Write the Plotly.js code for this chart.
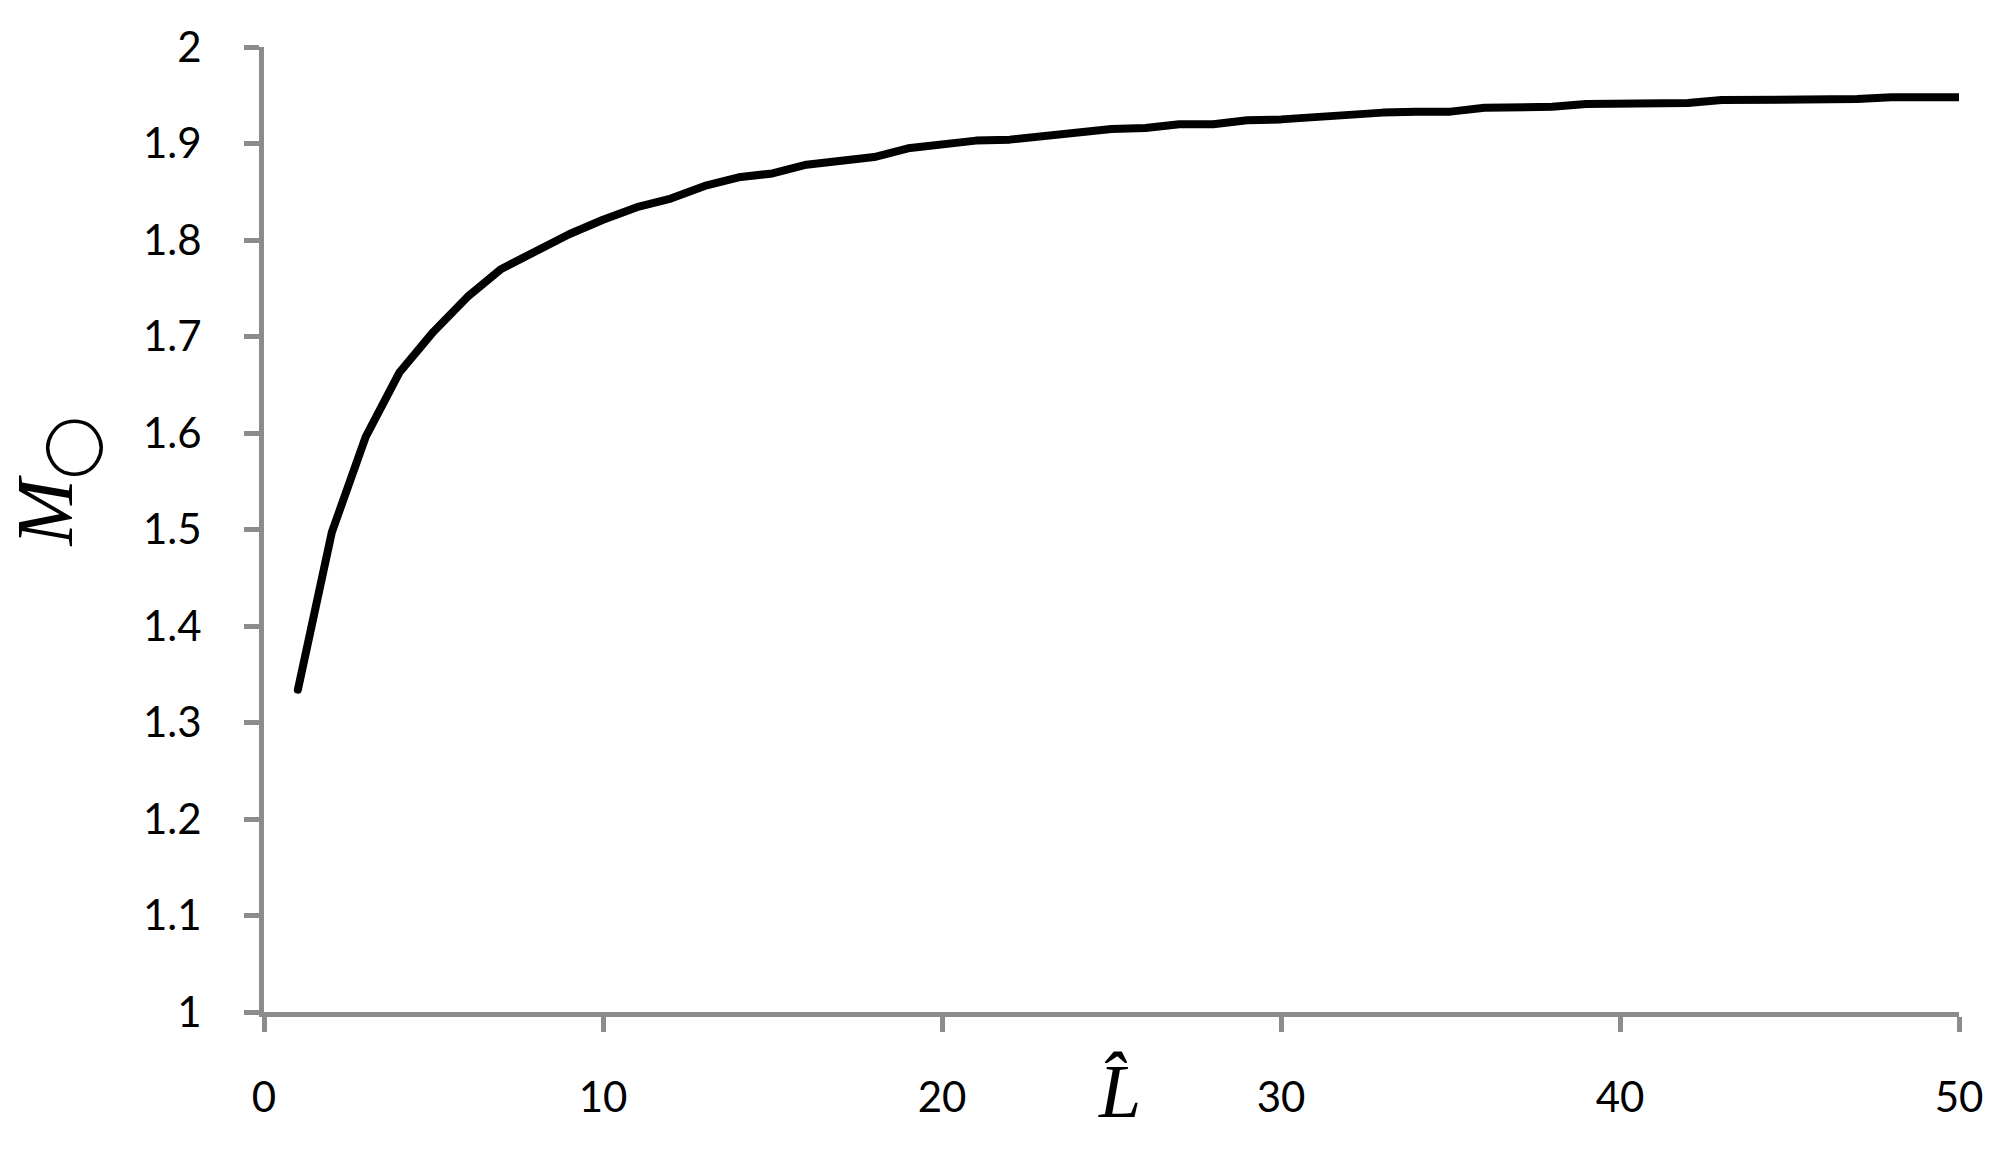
<!DOCTYPE html>
<html>
<head>
<meta charset="utf-8">
<script src="https://cdn.plot.ly/plotly-3.0.1.min.js"></script>
<style>
  html, body { margin: 0; padding: 0; background: #ffffff; }
  #chart { width: 2014px; height: 1150px; }
  #chart .scatterlayer .js-line { stroke-linecap: round !important; stroke-linejoin: round !important; }
</style>
</head>
<body>
<div id="chart"></div>
<script>
// L-hat values (x) and M-circle values (y)
const Lhat = [1, 2, 3, 4, 5, 6, 7, 8, 9, 10,
              11, 12, 13, 14, 15, 16, 17, 18, 19, 20,
              21, 22, 23, 24, 25, 26, 27, 28, 29, 30,
              31, 32, 33, 34, 35, 36, 37, 38, 39, 40,
              41, 42, 43, 44, 45, 46, 47, 48, 49, 50];
const Mcircle = [1.334, 1.497, 1.596, 1.663, 1.705, 1.741, 1.770, 1.788, 1.806, 1.821,
                 1.834, 1.843, 1.856, 1.865, 1.869, 1.878, 1.882, 1.886, 1.895, 1.899,
                 1.903, 1.904, 1.908, 1.912, 1.915, 1.916, 1.920, 1.920, 1.924, 1.925,
                 1.928, 1.929, 1.932, 1.933, 1.933, 1.937, 1.937, 1.938, 1.941, 1.941,
                 1.942, 1.942, 1.945, 1.945, 1.945, 1.946, 1.946, 1.948, 1.948, 1.948];

const xTickVals = [0, 10, 20, 30, 40, 50];
const yTickVals = [1, 1.1, 1.2, 1.3, 1.4, 1.5, 1.6, 1.7, 1.8, 1.9, 2];
const yTickText = ['1', '1.1', '1.2', '1.3', '1.4', '1.5', '1.6', '1.7', '1.8', '1.9', '2'];

const xTitle = '<i>L\u0302</i>';
const yTitle = '<i>M</i><sub>\u25EF</sub>';

const axisGray = '#8c8c8c';
const tickFont = { family: 'Lato, "Open Sans", sans-serif', size: 42, color: '#000000' };

const trace = {
  x: Lhat,
  y: Mcircle,
  type: 'scatter',
  mode: 'lines',
  line: { color: '#000000', width: 8 },
  hoverinfo: 'skip'
};

const layout = {
  width: 2014,
  height: 1150,
  paper_bgcolor: '#ffffff',
  plot_bgcolor: '#ffffff',
  showlegend: false,
  margin: { l: 264, r: 55, t: 47, b: 138, pad: 0 },
  xaxis: {
    range: [0, 50],
    tickvals: xTickVals,
    ticks: 'outside',
    ticklen: 15,
    tickwidth: 5,
    tickcolor: axisGray,
    showline: true,
    linecolor: axisGray,
    linewidth: 5,
    showgrid: false,
    zeroline: false,
    tickfont: tickFont,
    ticklabelstandoff: 30,
    fixedrange: true
  },
  yaxis: {
    range: [1, 2],
    tickvals: yTickVals,
    ticktext: yTickText,
    ticks: 'outside',
    ticklen: 15,
    tickwidth: 5,
    tickcolor: axisGray,
    showline: true,
    linecolor: axisGray,
    linewidth: 5,
    showgrid: false,
    zeroline: false,
    tickfont: tickFont,
    ticklabelstandoff: 34,
    fixedrange: true
  },
  annotations: [
    {
      text: xTitle,
      xref: 'paper', yref: 'paper',
      x: 0.505, y: -0.082,
      xanchor: 'center', yanchor: 'middle',
      showarrow: false,
      font: { family: '"Liberation Serif", "Times New Roman", serif', size: 76, color: '#000000' }
    },
    {
      text: yTitle,
      xref: 'paper', yref: 'paper',
      x: -0.125, y: 0.55,
      xanchor: 'center', yanchor: 'middle',
      textangle: -90,
      showarrow: false,
      font: { family: '"Liberation Serif", "Times New Roman", serif', size: 80, color: '#000000' }
    }
  ]
};

Plotly.newPlot('chart', [trace], layout, { staticPlot: true, displayModeBar: false });
</script>
</body>
</html>
